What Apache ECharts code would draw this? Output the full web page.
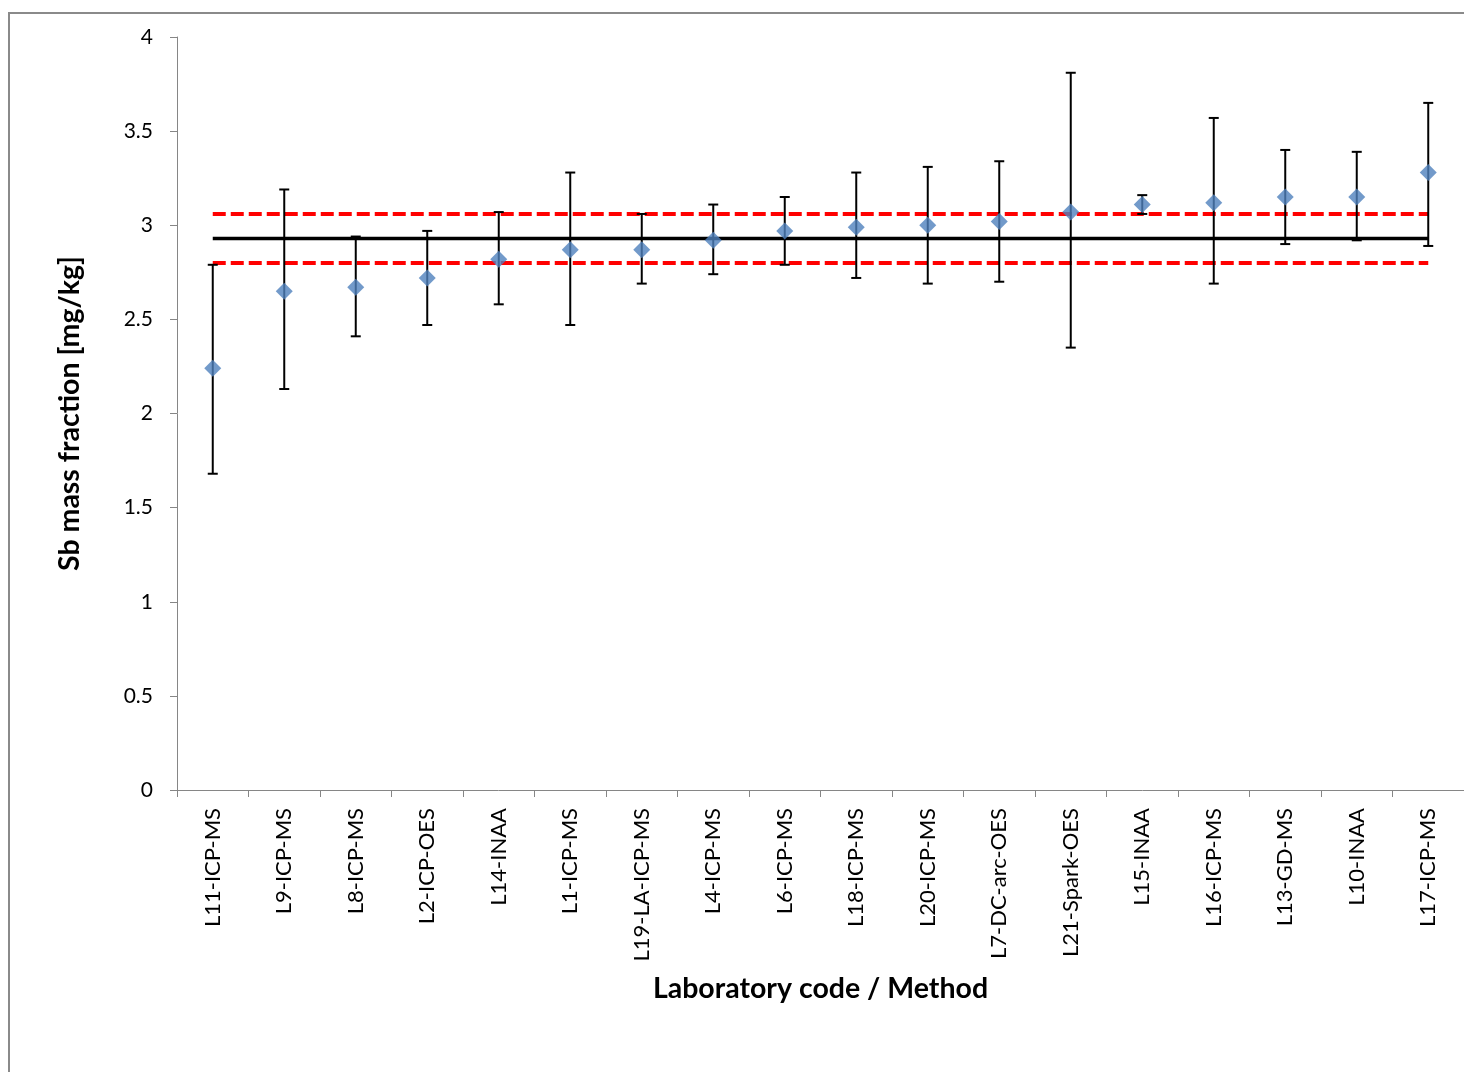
<!DOCTYPE html>
<html>
<head>
<meta charset="utf-8">
<script src="https://cdn.jsdelivr.net/npm/echarts@6/dist/echarts.min.js"></script>
<style>
  html, body { margin: 0; padding: 0; background: #ffffff; }
  #chart { width: 1464px; height: 1072px; }
</style>
</head>
<body>
<div id="chart"></div>
<script>
// Laboratory code / method, sorted by reported Sb mass fraction
const categories = ['L11-ICP-MS', 'L9-ICP-MS', 'L8-ICP-MS', 'L2-ICP-OES', 'L14-INAA', 'L1-ICP-MS',
  'L19-LA-ICP-MS', 'L4-ICP-MS', 'L6-ICP-MS', 'L18-ICP-MS', 'L20-ICP-MS', 'L7-DC-arc-OES',
  'L21-Spark-OES', 'L15-INAA', 'L16-ICP-MS', 'L13-GD-MS', 'L10-INAA', 'L17-ICP-MS'];
// Reported values [mg/kg]
const values = [2.24, 2.65, 2.67, 2.72, 2.82, 2.87, 2.87, 2.92, 2.97, 2.99, 3.00, 3.02, 3.07, 3.11, 3.12, 3.15, 3.15, 3.28];
// Upper and lower ends of the uncertainty bars [mg/kg]
const upperBar = [2.79, 3.19, 2.94, 2.97, 3.07, 3.28, 3.06, 3.11, 3.15, 3.28, 3.31, 3.34, 3.81, 3.16, 3.57, 3.40, 3.39, 3.65];
const lowerBar = [1.68, 2.13, 2.41, 2.47, 2.58, 2.47, 2.69, 2.74, 2.79, 2.72, 2.69, 2.70, 2.35, 3.06, 2.69, 2.90, 2.92, 2.89];
// Assigned value and its uncertainty interval [mg/kg]
const assignedValue = 2.93;
const intervalUpper = 3.06;
const intervalLower = 2.80;
// Value axis ticks
const yTicks = { min: 0, max: 4, interval: 0.5 };

const FONT = 'Lato, sans-serif';

const errorData = categories.map((c, i) => [i, lowerBar[i], upperBar[i]]);
const flat = v => categories.map(() => v);

const chart = echarts.init(document.getElementById('chart'));
chart.setOption({
  backgroundColor: '#ffffff',
  animation: false,
  graphic: [{
    type: 'rect',
    shape: { x: 9, y: 13, width: 1500, height: 1100 },
    style: { fill: 'none', stroke: '#8a8a8a', lineWidth: 2 },
    silent: true
  }],
  grid: { left: 177, right: 0, top: 37, bottom: 282, containLabel: false },
  xAxis: {
    type: 'category',
    data: categories,
    boundaryGap: true,
    name: 'Laboratory code / Method',
    nameLocation: 'middle',
    nameGap: 184,
    nameTextStyle: { fontFamily: FONT, fontSize: 28.5, fontWeight: 'bold', color: '#000' },
    axisLine: { lineStyle: { color: '#868686', width: 1 } },
    axisTick: { show: true, alignWithLabel: false, length: 7, lineStyle: { color: '#868686' } },
    axisLabel: { rotate: 90, margin: 18, fontFamily: FONT, fontSize: 22, color: '#000', interval: 0 },
    splitLine: { show: false }
  },
  yAxis: {
    type: 'value',
    min: yTicks.min, max: yTicks.max, interval: yTicks.interval,
    name: 'Sb mass fraction [mg/kg]',
    nameLocation: 'middle',
    nameGap: 93,
    nameRotate: 90,
    nameTextStyle: { fontFamily: FONT, fontSize: 28.5, fontWeight: 'bold', color: '#000' },
    axisLine: { show: true, lineStyle: { color: '#868686', width: 1 } },
    axisTick: { show: true, length: 7, lineStyle: { color: '#868686' } },
    axisLabel: { margin: 24, fontFamily: FONT, fontSize: 21, color: '#000' },
    splitLine: { show: false }
  },
  series: [
    {
      name: 'Assigned value',
      type: 'line',
      data: flat(assignedValue),
      symbol: 'none',
      lineStyle: { color: '#000000', width: 3.5 },
      z: 2
    },
    {
      name: 'Upper limit',
      type: 'line',
      data: flat(intervalUpper),
      symbol: 'none',
      lineStyle: { color: '#ff0000', width: 4, type: [13, 5] },
      z: 2
    },
    {
      name: 'Lower limit',
      type: 'line',
      data: flat(intervalLower),
      symbol: 'none',
      lineStyle: { color: '#ff0000', width: 4, type: [13, 5] },
      z: 2
    },
    {
      name: 'Uncertainty',
      type: 'custom',
      data: errorData,
      z: 3,
      renderItem: function (params, api) {
        const x = api.value(0);
        const lo = api.coord([x, api.value(1)]);
        const hi = api.coord([x, api.value(2)]);
        const half = 5;
        const style = { stroke: '#000000', lineWidth: 2 };
        return {
          type: 'group',
          children: [
            { type: 'line', shape: { x1: hi[0], y1: hi[1], x2: lo[0], y2: lo[1] }, style: style },
            { type: 'line', shape: { x1: hi[0] - half, y1: hi[1], x2: hi[0] + half, y2: hi[1] }, style: style },
            { type: 'line', shape: { x1: lo[0] - half, y1: lo[1], x2: lo[0] + half, y2: lo[1] }, style: style }
          ]
        };
      }
    },
    {
      name: 'Sb',
      type: 'scatter',
      data: values,
      symbol: 'diamond',
      symbolSize: [17, 17],
      itemStyle: { color: '#4f81bd' },
      z: 4
    }
  ]
});
</script>
</body>
</html>
